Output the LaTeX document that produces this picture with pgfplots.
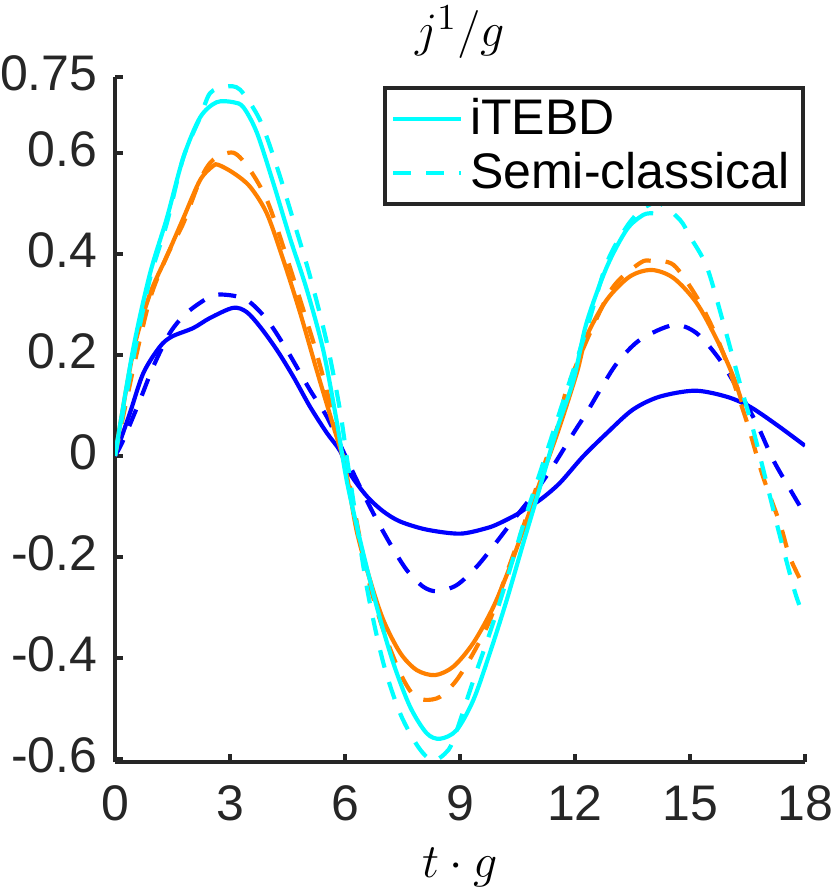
\documentclass[border=0pt]{standalone}
\usepackage{fontspec}
\setmainfont{Liberation Sans}
\usepackage{pgfplots}
\pgfplotsset{compat=1.18}
\definecolor{mcyan}{rgb}{0,1,1}
\definecolor{morange}{rgb}{1,0.5,0}
\definecolor{mblue}{rgb}{0,0,1}
\definecolor{axgray}{rgb}{0.15,0.15,0.15}
\begin{document}
\begin{tikzpicture}
\path[use as bounding box] (-34.5pt,-38.4pt) rectangle (214.5pt,228.6pt);
\begin{axis}[
  scale only axis, width=207pt, height=205.5pt,
  at={(0,0)}, anchor=south west,
  xmin=0, xmax=18, ymin=-0.606, ymax=0.75,
  axis x line*=bottom, axis y line*=left,
  axis line style={axgray, line width=1.2pt, -},
  xtick={0,3,6,9,12,15,18}, xticklabels={0,3,6,9,12,15,18},
  ytick={-0.6,-0.4,-0.2,0,0.2,0.4,0.6,0.75},
  yticklabels={-0.6,-0.4,-0.2,0,0.2,0.4,0.6,0.75},
  tick align=inside, major tick length=2.4pt,
  tick style={axgray, line width=1.2pt},
  ticklabel style={font=\fontsize{15}{18}\selectfont, text=axgray, inner sep=0pt},
  yticklabel style={anchor=east, xshift=-5.1pt, yshift=1pt},
  xticklabel style={anchor=north, yshift=-6.9pt},
  every axis title shift=0pt,
  title={$j^1/g$},
  title style={font=\fontsize{15.5}{18}\selectfont, at={(axis description cs:0.5,1)}, anchor=base, yshift=9pt},
  xlabel={$t\cdot g$},
  xlabel style={font=\fontsize{15.5}{18}\selectfont, at={(axis description cs:0.5,0)}, anchor=base, yshift=-34.5pt},
  legend style={at={(axis description cs:1,1)}, anchor=north east, yshift=-2.7pt,
    draw=axgray, line width=1.2pt, font=\fontsize{15}{17}\selectfont,
    inner xsep=2pt, inner ysep=1pt, row sep=0pt},
  legend cell align=left,
  legend image code/.code={\draw[#1] (0pt,0pt) -- (20.4pt,0pt);},
  every axis plot/.append style={line width=1.25pt},
]
\addlegendimage{mcyan, line width=1.25pt}
\addlegendentry{iTEBD}
\addlegendimage{mcyan, line width=1.25pt, dash pattern=on 5.4pt off 4.5pt}
\addlegendentry{Semi-classical}

% blue dashed
\addplot[mblue, smooth, dash pattern=on 5.4pt off 4.5pt, forget plot] coordinates {
(0,0) (0.21,0.03) (0.65,0.11) (1.0,0.177) (1.43,0.243) (1.87,0.283) (2.48,0.315)
(2.87,0.319) (3.43,0.309) (3.96,0.27) (4.48,0.21) (5.09,0.13) (5.53,0.077)
(5.96,0.008) (6.3,-0.047) (6.74,-0.114) (7.17,-0.173) (7.61,-0.226) (8.04,-0.259)
(8.4,-0.268) (8.91,-0.256) (9.44,-0.219) (9.96,-0.17) (10.39,-0.127) (10.91,-0.077)
(11.43,-0.02) (11.96,0.045) (12.3,0.085) (12.65,0.13) (13.1,0.184) (13.7,0.23)
(14.57,0.259) (15.17,0.243) (15.78,0.19) (16.3,0.125) (16.75,0.062) (17.17,-0.008)
(17.6,-0.065) (17.95,-0.11)};
% blue solid
\addplot[mblue, smooth, forget plot] coordinates {
(0,0) (0.39,0.085) (0.74,0.164) (1.17,0.216) (1.48,0.236) (2.04,0.253) (2.48,0.273)
(3.08,0.293) (3.43,0.285) (3.78,0.256) (4.22,0.21) (4.65,0.157) (5.09,0.097)
(5.53,0.045) (5.87,0.01) (6.13,-0.035) (6.57,-0.08) (7.0,-0.11) (7.44,-0.13)
(8.13,-0.146) (9.0,-0.154) (9.7,-0.143) (10.04,-0.133) (10.48,-0.116) (10.7,-0.105)
(11.09,-0.087) (11.6,-0.054) (12.2,-0.002) (12.83,0.045) (13.5,0.091) (14.2,0.117)
(15.13,0.129) (15.96,0.117) (16.57,0.097) (17.27,0.061) (18,0.02)};
% orange dashed
\addplot[morange, smooth, dash pattern=on 5.4pt off 4.5pt, forget plot] coordinates {
(0,0) (0.47,0.17) (0.91,0.31) (1.35,0.395) (1.78,0.46) (2.22,0.546) (2.56,0.586)
(3.09,0.60) (3.52,0.566) (3.96,0.507) (4.39,0.414) (4.83,0.309) (5.26,0.203)
(5.7,0.077) (6.1,-0.05) (6.57,-0.232) (7.0,-0.345) (7.44,-0.43) (7.78,-0.473)
(8.09,-0.483) (8.48,-0.477) (8.91,-0.444) (9.35,-0.39) (9.78,-0.325) (10.22,-0.232)
(10.65,-0.14) (11.09,-0.041) (11.6,0.071) (11.78,0.131) (12.39,0.243) (13.0,0.335)
(13.7,0.382) (14.0,0.386) (14.57,0.378) (15.17,0.315) (15.61,0.25) (15.96,0.184)
(16.48,0.068) (16.9,-0.04) (17.35,-0.135) (17.6,-0.2) (17.92,-0.251)};
% orange solid
\addplot[morange, smooth, forget plot] coordinates {
(0,0) (0.47,0.204) (0.91,0.32) (1.35,0.395) (1.78,0.47) (2.22,0.546) (2.56,0.574)
(2.7,0.576) (3.09,0.56) (3.52,0.533) (3.96,0.48) (4.39,0.388) (4.83,0.283)
(5.26,0.17) (5.7,0.058) (6.0,-0.02) (6.3,-0.147) (6.65,-0.245) (7.0,-0.325)
(7.44,-0.39) (7.87,-0.424) (8.35,-0.434) (8.83,-0.417) (9.35,-0.37) (9.87,-0.299)
(10.3,-0.22) (10.74,-0.127) (11.17,-0.034) (11.6,0.058) (12.05,0.165) (12.3,0.236)
(12.83,0.309) (13.43,0.355) (14.0,0.368) (14.57,0.352) (15.17,0.303) (15.7,0.23)
(16.13,0.157) (16.35,0.107)};
% cyan dashed
\addplot[mcyan, smooth, dash pattern=on 5.4pt off 4.5pt, forget plot] coordinates {
(0,0) (0.47,0.19) (0.91,0.35) (1.35,0.46) (1.78,0.59) (2.22,0.67) (2.48,0.718)
(2.87,0.731) (3.26,0.725) (3.78,0.665) (4.22,0.573) (4.65,0.467) (5.09,0.355)
(5.53,0.223) (5.87,0.09) (6.1,-0.03) (6.57,-0.26) (7.0,-0.41) (7.44,-0.51)
(7.9,-0.575) (8.27,-0.603) (8.6,-0.59) (8.83,-0.562) (9.35,-0.444) (9.78,-0.35)
(10.22,-0.245) (10.74,-0.114) (11.17,-0.014) (11.7,0.11) (12.3,0.25) (12.83,0.382)
(13.35,0.454) (13.78,0.49) (14.2,0.5) (14.74,0.467) (15.0,0.434) (15.44,0.374)
(15.87,0.263) (16.3,0.144) (16.65,0.051) (17.0,-0.054) (17.35,-0.16) (17.7,-0.26)
(17.85,-0.295)};
% cyan solid
\addplot[mcyan, smooth, forget plot] coordinates {
(0,0) (0.47,0.21) (0.91,0.36) (1.35,0.47) (1.78,0.59) (2.22,0.67) (2.65,0.70)
(3.09,0.70) (3.35,0.69) (3.7,0.64) (4.13,0.54) (4.57,0.43) (5.0,0.33) (5.43,0.21)
(5.78,0.07) (6.04,-0.047) (6.39,-0.166) (6.83,-0.299) (7.26,-0.41) (7.7,-0.497)
(8.13,-0.549) (8.48,-0.56) (8.91,-0.543) (9.35,-0.483) (9.78,-0.39) (10.22,-0.285)
(10.65,-0.173) (11.09,-0.061) (11.52,0.051) (11.96,0.15) (12.3,0.263) (12.83,0.374)
(13.35,0.448) (13.78,0.477) (14.04,0.48)};
\end{axis}
\end{tikzpicture}
\end{document}
